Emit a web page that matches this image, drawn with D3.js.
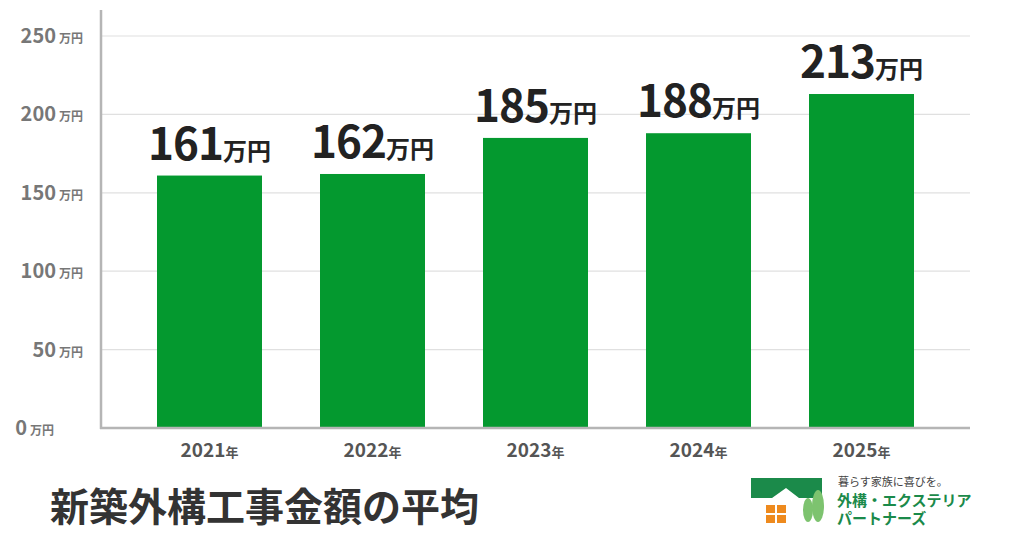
<!DOCTYPE html><html><head><meta charset="utf-8"><script src="https://cdn.jsdelivr.net/npm/d3@7"></script>
<style>body{margin:0;background:#fff}text{font-family:"Noto Sans CJK JP","Noto Sans",sans-serif}</style></head><body><svg id="c" width="1024" height="536"></svg>
<script>
const categories=["2021","2022","2023","2024","2025"];
const values=[161,162,185,188,213];
const ticks=[0,50,100,150,200,250];
const svg=d3.select("#c");
const x=d3.scalePoint().domain(categories).range([209.5,861.5]);
const y=d3.scaleLinear().domain([0,250]).range([428,36]);
const bw=105;
svg.selectAll(".g").data(ticks.filter(t=>t>0)).join("line").attr("x1",102).attr("x2",970).attr("y1",d=>y(d)).attr("y2",d=>y(d)).attr("stroke","#e0e0e0").attr("stroke-width",1.2);
svg.selectAll(".bar").data(values).join("rect").attr("x",(d,i)=>x(categories[i])-bw/2).attr("width",bw).attr("y",d=>y(d)).attr("height",d=>y(0)-y(d)).attr("fill","#04992f");
svg.append("line").attr("x1",101).attr("x2",101).attr("y1",10).attr("y2",429).attr("stroke","#b5b5b5").attr("stroke-width",2.5);
svg.append("line").attr("x1",100).attr("x2",970).attr("y1",428).attr("y2",428).attr("stroke","#b5b5b5").attr("stroke-width",2.5);
const yl=svg.selectAll(".yl").data(ticks).join("text").attr("x",d=>d===0?54:83).attr("y",d=>y(d)+7).attr("text-anchor","end").attr("fill","#777").attr("font-weight","bold");
yl.append("tspan").attr("font-size",20).text(d=>d);
yl.append("tspan").attr("font-size",12).attr("dx",3).text("万円");
const xl=svg.selectAll(".xl").data(categories).join("text").attr("x",d=>x(d)).attr("y",457).attr("text-anchor","middle").attr("fill","#555").attr("font-weight","bold");
xl.append("tspan").attr("font-size",19).text(d=>d);
xl.append("tspan").attr("font-size",13).text("年");
const vl=svg.selectAll(".vl").data(values).join("text").attr("x",(d,i)=>x(categories[i])).attr("y",d=>y(d)-16).attr("text-anchor","middle").attr("fill","#222").attr("font-weight","bold");
vl.append("tspan").attr("font-size",44).attr("letter-spacing",-1).text(d=>d);
vl.append("tspan").attr("font-size",24).text("万円");
svg.append("text").attr("x",50).attr("y",521).attr("font-size",39).attr("font-weight","bold").attr("fill","#333").text("新築外構工事金額の平均");
// logo
const g=svg.append("g");
g.append("path").attr("d","M751,478 L822,478 L822,498 L799,498 L786,488 L772,498 L751,498 Z").attr("fill","#1b8a4a");
[[766,505],[777,505],[766,515],[777,515]].forEach(p=>g.append("rect").attr("x",p[0]).attr("y",p[1]).attr("width",9).attr("height",8).attr("fill","#ee8a1e"));
g.append("ellipse").attr("cx",808).attr("cy",510).attr("rx",5).attr("ry",12).attr("fill","#7dc36f");
g.append("ellipse").attr("cx",818).attr("cy",506).attr("rx",6).attr("ry",16).attr("fill","#7dc36f");
g.append("text").attr("x",838).attr("y",486).attr("font-size",11).attr("fill","#444").text("暮らす家族に喜びを。");
g.append("text").attr("x",837).attr("y",506).attr("font-size",15).attr("fill","#1b8a4a").attr("font-weight","bold").text("外構・エクステリア");
g.append("text").attr("x",837).attr("y",524).attr("font-size",15).attr("fill","#1b8a4a").attr("font-weight","bold").text("パートナーズ");
</script></body></html>
